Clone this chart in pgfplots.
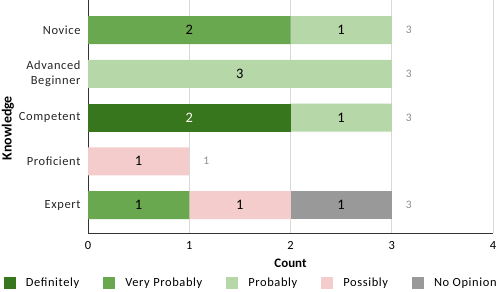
\documentclass[border=0pt]{standalone}
\usepackage{pgfplots}
\pgfplotsset{compat=1.18}
\usepackage{fontspec}
\setmainfont{Carlito}[LetterSpace=5]
\newfontfamily\plainfont{Carlito}
\definecolor{cDef}{HTML}{38761D}
\definecolor{cVP}{HTML}{6AA84F}
\definecolor{cP}{HTML}{B6D7A8}
\definecolor{cPo}{HTML}{F4CCCC}
\definecolor{cNO}{HTML}{999999}
\definecolor{cAx}{HTML}{333333}
\definecolor{cGrid}{HTML}{D9D9D9}
\pgfplotsset{
  common/.style={at={(88bp,59bp)}, anchor=south west, scale only axis,
    width=405bp, height=233bp,
    xmin=0, xmax=4, ymin=-0.64, ymax=4.69},
}
\newcommand\lblfont{\fontsize{14.5}{16}\selectfont}
\begin{document}
\begin{tikzpicture}
\path[use as bounding box] (0bp,0bp) rectangle (498bp,292bp);
\begin{axis}[common,
  xbar stacked, bar width=28bp,
  xtick={0,...,4}, ytick={0,...,4},
  yticklabels={Expert,Proficient,Competent,{Advanced\\Beginner},Novice},
  yticklabel style={align=right, font=\fontsize{12.5}{15}\selectfont, text=black!85, xshift=-4bp},
  xticklabel style={font=\fontsize{12.5}{15}\selectfont, yshift=-5bp},
  /pgf/number format/assume math mode=true,
  xmajorgrids, grid style={cGrid, line width=0.9bp},
  axis x line*=bottom, axis y line*=left,
  axis line style={cAx, line width=0.9bp},
  major tick length=0pt,
  xlabel={\plainfont\bfseries Count}, ylabel={\plainfont\bfseries Knowledge},
  xlabel style={at={(axis description cs:0.5,-0.129)}, anchor=center, font=\fontsize{13}{15}\selectfont},
  ylabel style={at={(axis description cs:-0.198,0.45)}, anchor=center, font=\fontsize{14}{16}\selectfont},
  nodes near coords={\lblfont\pgfmathfloatifflags{\pgfplotspointmeta}{0}{}{\pgfmathprintnumber{\pgfplotspointmeta}}},
  nodes near coords style={text=black},
  legend columns=5,
  legend entries={Definitely, Very Probably, Probably, Possibly, No Opinion},
  legend image code/.code={\fill[#1] (0bp,-6bp) rectangle (12bp,6bp);},
  legend style={draw=none, at={(axis description cs:0.403,-0.215)}, anchor=center,
    font=\fontsize{12.5}{15}\selectfont,
    /tikz/every odd column/.append style={column sep=8bp},
    /tikz/every even column/.append style={column sep=22bp}},
]
\addplot[fill=cDef, draw=none, nodes near coords style={text=white},
  nodes near coords={\lblfont\pgfmathfloatifflags{\pgfplotspointmeta}{0}{}{\textcolor{white}{\pgfmathprintnumber{\pgfplotspointmeta}}}}]
  coordinates {(0,4) (0,3) (2,2) (0,1) (0,0)};
\addplot[fill=cVP, draw=none] coordinates {(2,4) (0,3) (0,2) (0,1) (1,0)};
\addplot[fill=cP, draw=none] coordinates {(1,4) (3,3) (1,2) (0,1) (0,0)};
\addplot[fill=cPo, draw=none] coordinates {(0,4) (0,3) (0,2) (1,1) (1,0)};
\addplot[fill=cNO, draw=none] coordinates {(0,4) (0,3) (0,2) (0,1) (1,0)};
\end{axis}
\begin{axis}[common, hide axis]
\addplot[only marks, mark=none, point meta=explicit symbolic,
  nodes near coords={\fontsize{11.5}{13}\selectfont\pgfplotspointmeta},
  nodes near coords style={text=black!45, anchor=center, xshift=17bp}]
  coordinates {(3,4) [3] (3,3) [3] (3,2) [3] (1,1) [1] (3,0) [3]};
\end{axis}
\end{tikzpicture}
\end{document}
